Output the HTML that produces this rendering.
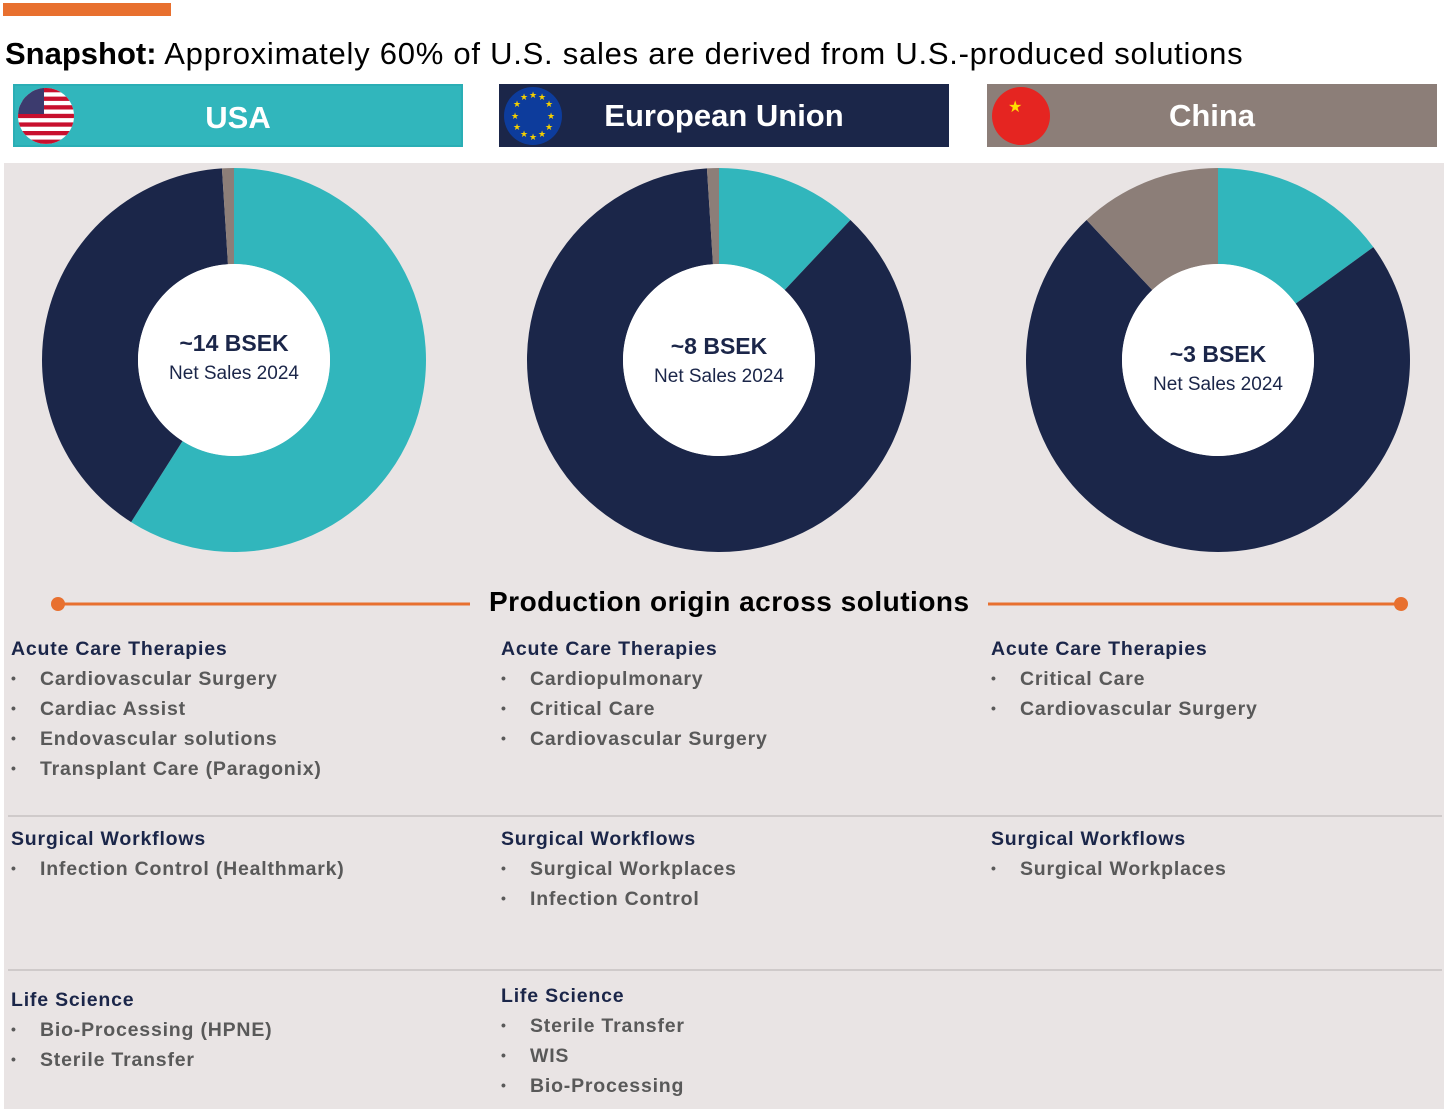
<!DOCTYPE html>
<html><head><meta charset="utf-8"><style>
body{margin:0;width:1456px;height:1109px;background:#fff;position:relative;overflow:hidden;font-family:"Liberation Sans",Arial,sans-serif}
.a{position:absolute}
.hdr{position:absolute;top:84px;height:63px;width:450px;color:#fff;font-weight:bold;font-size:31px;line-height:63px;text-align:center;box-sizing:border-box}
.col{position:absolute;font-weight:bold;font-size:19.5px;letter-spacing:0.8px}
.col h4{margin:0;color:#1b2649;font-size:19.5px;height:30px}
.col div{color:#595959;height:30px;padding-left:29px;position:relative}
.col div:before{content:"•";position:absolute;left:0;font-size:14px;top:2px}
.ctr{position:absolute;text-align:center;width:200px;color:#1b2649}
.ctr b{font-size:23px;display:block;margin-bottom:6px}
.ctr span{font-size:19px;color:#1b2649}
</style></head><body>
<div class="a" style="left:3px;top:3px;width:168px;height:13px;background:#e8702f"></div>
<div class="a" style="left:5px;top:36px;font-size:31px;color:#000;letter-spacing:0.75px"><b style="letter-spacing:0">Snapshot:</b> Approximately 60% of U.S. sales are derived from U.S.-produced solutions</div>
<div class="a" style="left:4px;top:163px;width:1440px;height:946px;background:#e9e4e4"></div>
<div class="hdr" style="left:13px;background:#31b6bc;border:2px solid #2aaeb5">USA</div>
<div class="hdr" style="left:499px;background:#1b2649;padding-left:0">European Union</div>
<div class="hdr" style="left:987px;background:#8c7e78">China</div>
<svg class="a" style="left:0;top:0" width="1456" height="170">
<defs><clipPath id="cu"><circle cx="46" cy="116" r="28"/></clipPath></defs>
<g clip-path="url(#cu)"><rect x="18" y="88" width="56" height="56" fill="#fff"/>
<g fill="#c8102e"><rect x="18" y="88" width="56" height="4.3"/><rect x="18" y="96.6" width="56" height="4.3"/><rect x="18" y="105.2" width="56" height="4.3"/><rect x="18" y="113.8" width="56" height="4.3"/><rect x="18" y="122.4" width="56" height="4.3"/><rect x="18" y="131" width="56" height="4.3"/><rect x="18" y="139.6" width="56" height="4.3"/></g>
<rect x="18" y="88" width="26" height="26" fill="#3c3b6e"/></g>
<circle cx="533" cy="116" r="29" fill="#0d3c9c"/>
<g fill="#f5d000" font-size="9" text-anchor="middle">
<text x="533" y="98">★</text><text x="542" y="100">★</text><text x="549" y="107">★</text><text x="551" y="119">★</text><text x="549" y="130">★</text><text x="542" y="137">★</text><text x="533" y="140">★</text><text x="524" y="137">★</text><text x="517" y="130">★</text><text x="515" y="119">★</text><text x="517" y="107">★</text><text x="524" y="100">★</text></g>
<circle cx="1021" cy="116" r="29" fill="#e52521"/>
<text x="1008" y="112" fill="#ffde00" font-size="16">★</text>
</svg>
<svg id="donuts" class="a" style="left:0;top:0" width="1456" height="580"></svg>
<div class="ctr" style="left:134px;top:330px"><b>~14 BSEK</b><span>Net Sales 2024</span></div>
<div class="ctr" style="left:619px;top:333px"><b>~8 BSEK</b><span>Net Sales 2024</span></div>
<div class="ctr" style="left:1118px;top:341px"><b>~3 BSEK</b><span>Net Sales 2024</span></div>
<svg class="a" style="left:0;top:585px" width="1456" height="40">
<line x1="58" y1="19" x2="470" y2="19" stroke="#e8702f" stroke-width="3"/><circle cx="58" cy="19" r="7" fill="#e8702f"/>
<line x1="988" y1="19" x2="1401" y2="19" stroke="#e8702f" stroke-width="3"/><circle cx="1401" cy="19" r="7" fill="#e8702f"/></svg>
<div class="a" style="left:489px;top:586px;font-size:28px;font-weight:bold;color:#000;letter-spacing:0.5px">Production origin across solutions</div>
<div class="a" style="left:8px;top:815px;width:1434px;height:2px;background:#cfcaca"></div>
<div class="a" style="left:8px;top:969px;width:1434px;height:2px;background:#cfcaca"></div>
<div class="col" style="left:11px;top:638px"><h4>Acute Care Therapies</h4><div>Cardiovascular Surgery</div><div>Cardiac Assist</div><div>Endovascular solutions</div><div>Transplant Care (Paragonix)</div></div>
<div class="col" style="left:501px;top:638px"><h4>Acute Care Therapies</h4><div>Cardiopulmonary</div><div>Critical Care</div><div>Cardiovascular Surgery</div></div>
<div class="col" style="left:991px;top:638px"><h4>Acute Care Therapies</h4><div>Critical Care</div><div>Cardiovascular Surgery</div></div>
<div class="col" style="left:11px;top:828px"><h4>Surgical Workflows</h4><div>Infection Control (Healthmark)</div></div>
<div class="col" style="left:501px;top:828px"><h4>Surgical Workflows</h4><div>Surgical Workplaces</div><div>Infection Control</div></div>
<div class="col" style="left:991px;top:828px"><h4>Surgical Workflows</h4><div>Surgical Workplaces</div></div>
<div class="col" style="left:11px;top:989px"><h4>Life Science</h4><div>Bio-Processing (HPNE)</div><div>Sterile Transfer</div></div>
<div class="col" style="left:501px;top:985px"><h4>Life Science</h4><div>Sterile Transfer</div><div>WIS</div><div>Bio-Processing</div></div>
<script>
const regions=["USA","EU","China"];
const usProduced=[59,12,15];
const localProduced=[40,87,73];
const otherProduced=[1,1,12];
const colors=["#31b6bc","#1b2649","#8c7e78"];
const cxs=[234,719,1218],cy=360,R=192,r=96;
const svg=document.getElementById('donuts');
function pt(a,rad,cx){return [cx+rad*Math.sin(a),cy-rad*Math.cos(a)];}
regions.forEach((reg,i)=>{
  const vals=[usProduced[i],localProduced[i],otherProduced[i]];
  const tot=vals.reduce((s,v)=>s+v,0);
  let a0=0;
  vals.forEach((v,j)=>{
    const a1=a0+v/tot*2*Math.PI;
    const [x0,y0]=pt(a0,R,cxs[i]),[x1,y1]=pt(a1,R,cxs[i]),[x2,y2]=pt(a1,r,cxs[i]),[x3,y3]=pt(a0,r,cxs[i]);
    const lg=(a1-a0)>Math.PI?1:0;
    const p=document.createElementNS('http://www.w3.org/2000/svg','path');
    p.setAttribute('d',`M${x0},${y0}A${R},${R} 0 ${lg} 1 ${x1},${y1}L${x2},${y2}A${r},${r} 0 ${lg} 0 ${x3},${y3}Z`);
    p.setAttribute('fill',colors[j]);
    
    
    svg.appendChild(p);
    a0=a1;
  });
  const c=document.createElementNS('http://www.w3.org/2000/svg','circle');
  c.setAttribute('cx',cxs[i]);c.setAttribute('cy',cy);c.setAttribute('r',r);c.setAttribute('fill','#fff');
  
  
  svg.appendChild(c);
});
</script>
</body></html>
